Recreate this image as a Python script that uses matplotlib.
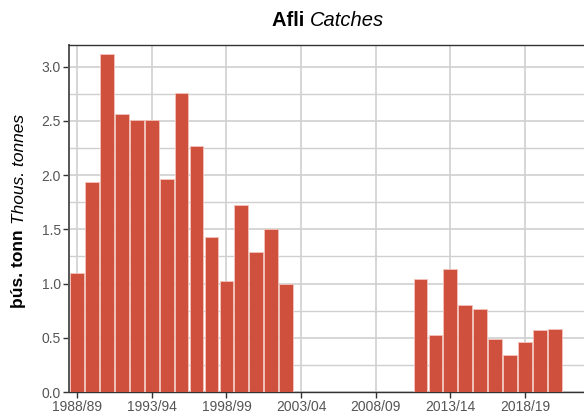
import matplotlib
matplotlib.use("Agg")
import matplotlib.pyplot as plt
from matplotlib.ticker import MultipleLocator

plt.rcParams['font.family'] = ['Liberation Sans', 'DejaVu Sans']

# Catch per fishing year (start year of the season), thousand tonnes
years_a = [1988, 1989, 1990, 1991, 1992, 1993, 1994, 1995, 1996, 1997,
           1998, 1999, 2000, 2001, 2002]
catch_a = [1.10, 1.94, 3.12, 2.56, 2.51, 2.51, 1.96, 2.76, 2.27, 1.43,
           1.02, 1.72, 1.29, 1.50, 1.00]
years_b = [2011, 2012, 2013, 2014, 2015, 2016, 2017, 2018, 2019, 2020]
catch_b = [1.04, 0.53, 1.13, 0.80, 0.77, 0.49, 0.34, 0.46, 0.57, 0.58]

tick_years = [1988, 1993, 1998, 2003, 2008, 2013, 2018]
tick_labels = ["1988/89", "1993/94", "1998/99", "2003/04", "2008/09", "2013/14", "2018/19"]

bar_color = '#cf503c'
grid_color = '#d0d0d0'
spine_color = '#333333'

fig = plt.figure(figsize=(5.84, 4.19), dpi=100)
ax = fig.add_axes([69 / 584, 27 / 419, 1 - 69 / 584, 347 / 419])

years = years_a + years_b
catch = catch_a + catch_b
ax.bar(years, catch, width=0.92, color=bar_color, edgecolor='#f2c4bb', linewidth=0.6, zorder=3)

ax.set_xlim(1987.46, 2021.95)
ax.set_ylim(0, 3.2)
ax.set_xticks(tick_years)
ax.set_xticklabels(tick_labels)
ax.yaxis.set_major_locator(MultipleLocator(0.5))
ax.yaxis.set_minor_locator(MultipleLocator(0.25))
ax.yaxis.set_major_formatter(matplotlib.ticker.FormatStrFormatter('%.1f'))

ax.grid(True, which='major', color=grid_color, linewidth=1.2, zorder=0)
ax.yaxis.grid(True, which='minor', color=grid_color, linewidth=1.0, zorder=0)
ax.set_axisbelow(True)

for side in ['left', 'top', 'bottom']:
    ax.spines[side].set_color(spine_color)
    ax.spines[side].set_linewidth(1.0)
ax.spines['left'].set_color('#555555')
ax.spines['left'].set_linewidth(1.4)
ax.spines['right'].set_visible(False)

ax.tick_params(axis='both', which='major', direction='out', length=4, width=1.0,
               color=spine_color, labelcolor='#555555', labelsize=10, pad=2)
ax.tick_params(axis='y', which='minor', length=0)

# Title: bold + italic parts
fig.canvas.draw()
renderer = fig.canvas.get_renderer()
cx = 328 / 584
t1 = fig.text(0, 1 - 20 / 419, "Afli ", fontsize=14.5, fontweight='bold', va='center', ha='left')
t2 = fig.text(0, 1 - 20 / 419, "Catches", fontsize=14.5, fontstyle='italic', va='center', ha='left')
w1 = t1.get_window_extent(renderer).width / 584
w2 = t2.get_window_extent(renderer).width / 584
x0 = cx - (w1 + w2) / 2
t1.set_x(x0)
t2.set_x(x0 + w1)

# Y label: bold + italic parts, rotated
cy = 1 - 211 / 419
l1 = fig.text(19 / 584, 0, "þús. tonn ", fontsize=12.5, fontweight='bold', rotation=90,
              ha='center', va='bottom', rotation_mode='anchor')
l2 = fig.text(19 / 584, 0, "Thous. tonnes", fontsize=12.5, fontstyle='italic', rotation=90,
              ha='center', va='bottom', rotation_mode='anchor')
h1 = l1.get_window_extent(renderer).height / 419
h2 = l2.get_window_extent(renderer).height / 419
y0 = cy - (h1 + h2) / 2
l1.set_y(y0)
l2.set_y(y0 + h1)
for t in (l1, l2):
    t.set_ha('left')
    t.set_va('center')

fig.savefig('out.png', dpi=100)
